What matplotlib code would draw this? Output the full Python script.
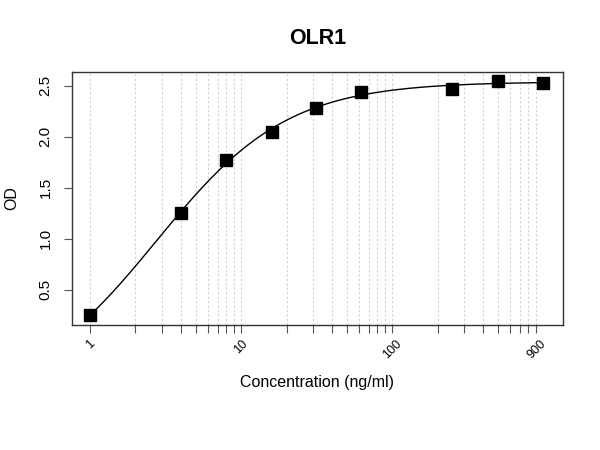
import numpy as np
import matplotlib
matplotlib.use("Agg")
import matplotlib.pyplot as plt
from matplotlib.ticker import FixedLocator, NullLocator, NullFormatter

plt.rcParams['font.family'] = ['Liberation Sans', 'DejaVu Sans']

conc = [1, 4, 8, 16, 31.25, 62.5, 250, 500, 1000]
od = [0.255, 1.252, 1.775, 2.046, 2.277, 2.437, 2.47, 2.55, 2.53]
title = "OLR1"
xlabel = "Concentration (ng/ml)"
ylabel = "OD"
xtick_labels = {1: "1", 10: "10", 100: "100", 900: "900"}
yticks = [0.5, 1.0, 1.5, 2.0, 2.5]

x = np.array(conc, float)
y = np.array(od, float)

# 4-parameter logistic fit (grid over slope / EC50, linear solve for asymptotes)
best = None
for B in np.linspace(0.5, 3.0, 126):
    for lc in np.linspace(-1, 3, 201):
        C = 10 ** lc
        g = 1.0 / (1.0 + (x / C) ** B)
        M = np.column_stack([g, 1 - g])
        coef, *_ = np.linalg.lstsq(M, y, rcond=None)
        r = np.sum((M @ coef - y) ** 2)
        if best is None or r < best[0]:
            best = (r, B, C, coef)
_, B, C, (A, D) = best
xs = np.logspace(np.log10(x.min()), np.log10(x.max()), 300)
ys = D + (A - D) / (1 + (xs / C) ** B)

fig = plt.figure(figsize=(6, 4.5), dpi=100)
ax = fig.add_axes([0.12, 0.278, 0.818, 0.562])
ax.set_xscale('log')
ax.set_xlim(0.76, 1350)
ax.set_ylim(0.157, 2.634)

tick_pos = [m * 10 ** e for e in range(3) for m in range(1, 10)]
for t in tick_pos:
    ax.axvline(t, color='#d0d0d0', linestyle=(0, (2, 2)), linewidth=0.8, zorder=0)

ax.plot(xs, ys, color='black', linewidth=1.0, zorder=2)
ax.plot(x, y, 's', color='black', markersize=8.5, zorder=3)

ax.xaxis.set_major_locator(FixedLocator(tick_pos))
ax.xaxis.set_minor_locator(NullLocator())
ax.xaxis.set_minor_formatter(NullFormatter())
ax.set_xticklabels([xtick_labels.get(t, "") for t in tick_pos], rotation=45,
                   ha='center', va='top', fontsize=9)
ax.set_yticks(yticks)
ax.set_yticklabels([f"{v:.1f}" for v in yticks], rotation=90, va='center', fontsize=11)
ax.tick_params(axis='both', length=6, width=0.8, color='#555555')
ax.tick_params(axis='x', pad=3)
ax.tick_params(axis='y', pad=8)
for s in ax.spines.values():
    s.set_color('#333333')
    s.set_linewidth(1.0)

ax.set_title(title, fontsize=15.5, fontweight='bold', pad=20)
ax.set_xlabel(xlabel, fontsize=11.5, labelpad=10)
ax.set_ylabel(ylabel, fontsize=11.5, labelpad=14)

fig.savefig("out.png", dpi=100)
